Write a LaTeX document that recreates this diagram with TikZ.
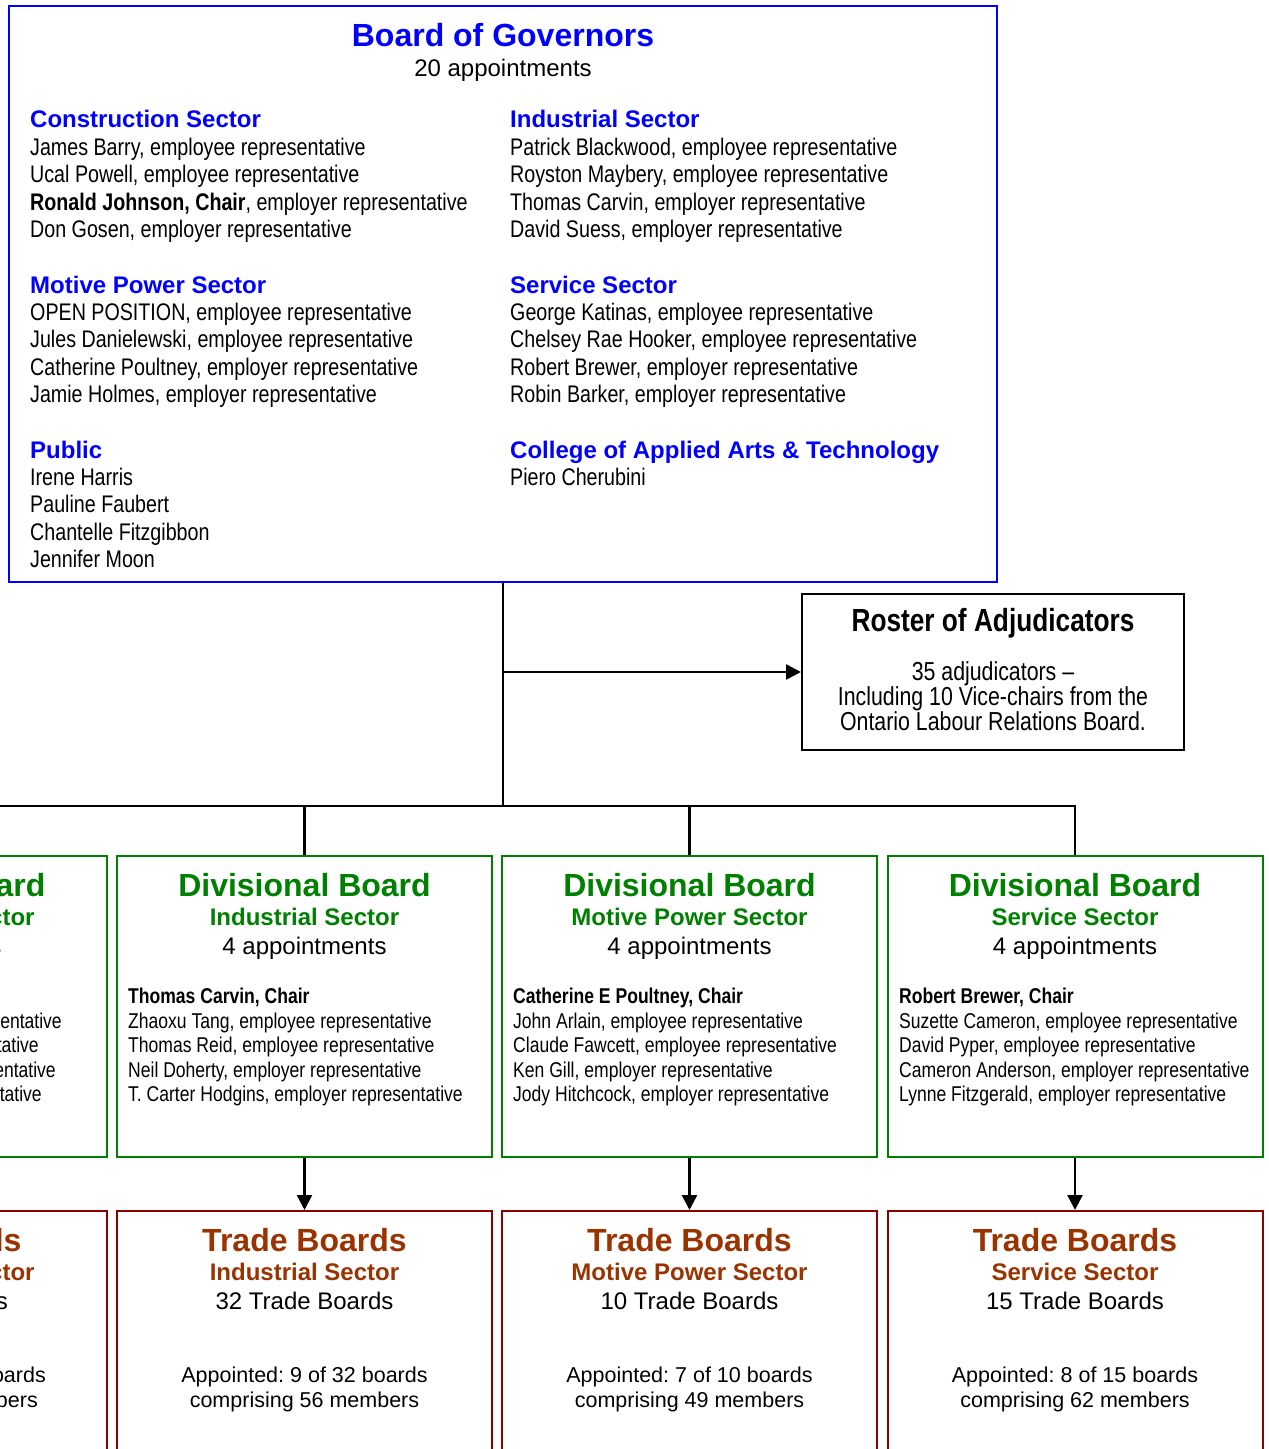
\documentclass[tikz,border=0pt]{standalone}
\usepackage{fontspec}
\setmainfont{Liberation Sans}
\newfontfamily\narrowfont{Liberation Sans}[FakeStretch=0.82]
\usetikzlibrary{arrows.meta}
\definecolor{bblue}{RGB}{0,0,255}
\definecolor{dgreen}{RGB}{0,128,0}
\definecolor{dred}{RGB}{140,0,0}
\definecolor{tbrown}{RGB}{153,51,0}
\tikzset{
  bluebox/.style={draw=bblue, line width=2pt, inner sep=0pt},
  rosterbox/.style={draw=black, line width=2pt, inner sep=0pt, minimum width=382pt, minimum height=156pt},
  divbox/.style={draw=dgreen, line width=2pt, inner sep=0pt, minimum width=375pt, minimum height=301pt},
  tradebox/.style={draw=dred, line width=2pt, inner sep=0pt, minimum width=375pt, minimum height=300pt},
  conn/.style={line width=2.5pt},
  arr/.style={conn, -{Triangle[width=15pt,length=15pt]}},
  hd/.style={font=\fontsize{32}{36}\selectfont\bfseries, anchor=base, inner sep=0pt},
  sec/.style={font=\fontsize{24}{27.5}\selectfont\bfseries, inner sep=0pt},
  reg/.style={font=\fontsize{24}{27.5}\selectfont, anchor=base, inner sep=0pt},
  nm/.style={font=\narrowfont\fontsize{24}{27.4}\selectfont, anchor=base west, align=left, inner sep=0pt},
  dnm/.style={font=\narrowfont\fontsize{21.4}{24.5}\selectfont, anchor=base west, align=left, inner sep=0pt},
  dnmr/.style={font=\narrowfont\fontsize{21.4}{24.5}\selectfont, anchor=base east, inner sep=0pt},
  apt/.style={font=\fontsize{21.5}{25}\selectfont, anchor=base, align=center, inner sep=0pt},
  aptr/.style={font=\fontsize{21.5}{25}\selectfont, anchor=base east, inner sep=0pt},
}
\begin{document}
\frenchspacing
\begin{tikzpicture}[x=1pt,y=-1pt]
\useasboundingbox (0,0) rectangle (1269,1449);
\clip (0,0) rectangle (1269,1449);

% ---------------- Board of Governors ----------------
\node[bluebox, minimum width=988pt, minimum height=576pt] (board) at (503,294) {};
\node[hd, text=bblue] (btitle) at (503,46) {Board of Governors};
\node[reg] (bapp) at (503,76) {20 appointments};

% (multi-line nodes: the base anchor is the baseline of the last line)
\node[sec, text=bblue, anchor=base west] (hcon) at (30,127) {Construction Sector};
\node[nm] (ncon) at (30,237.7) {James Barry, employee representative\\
Ucal Powell, employee representative\\
\textbf{Ronald Johnson, Chair}, employer representative\\
Don Gosen, employer representative};

\node[sec, text=bblue, anchor=base west] (hmot) at (30,293) {Motive Power Sector};
\node[nm] (nmot) at (30,402.7) {OPEN POSITION, employee representative\\
Jules Danielewski, employee representative\\
Catherine Poultney, employer representative\\
Jamie Holmes, employer representative};

\node[sec, text=bblue, anchor=base west] (hpub) at (30,458) {Public};
\node[nm] (npub) at (30,567.7) {Irene Harris\\
Pauline Faubert\\
Chantelle Fitzgibbon\\
Jennifer Moon};

\node[sec, text=bblue, anchor=base west] (hind) at (510,127) {Industrial Sector};
\node[nm] (nind) at (510,237.7) {Patrick Blackwood, employee representative\\
Royston Maybery, employee representative\\
Thomas Carvin, employer representative\\
David Suess, employer representative};

\node[sec, text=bblue, anchor=base west] (hser) at (510,293) {Service Sector};
\node[nm] (nser) at (510,402.7) {George Katinas, employee representative\\
Chelsey Rae Hooker, employee representative\\
Robert Brewer, employer representative\\
Robin Barker, employer representative};

\node[sec, text=bblue, anchor=base west] (hcol) at (510,458) {College of Applied Arts \& Technology};
\node[nm] (ncol) at (510,485.5) {Piero Cherubini};

% ---------------- Roster ----------------
\node[rosterbox] (roster) at (993,672) {};
\node[font=\narrowfont\fontsize{32}{36}\selectfont\bfseries, anchor=base, inner sep=0pt] (rtitle) at (993,631) {Roster of Adjudicators};
\node[font=\narrowfont\fontsize{26}{25}\selectfont, anchor=base, align=center, inner sep=0pt] (rtext) at (993,730) {35 adjudicators –\\Including 10 Vice-chairs from the\\Ontario Labour Relations Board.};

% ---------------- Divisional boards ----------------
\node[divbox] (dcon) at (-80.75,1006.5) {};
\node[hd, text=dgreen] (dcont) at (-80.75,896) {Divisional Board};
\node[sec, text=dgreen, anchor=base] (dcons) at (-80.75,925) {Construction Sector};
\node[reg] (dcona) at (-80.75,954) {4 appointments};
\node[dnmr] (dconn1) at (62,1028) {employee representative};
\node[dnmr] (dconn2) at (39,1052.5) {employee representative};
\node[dnmr] (dconn3) at (56,1077) {employer representative};
\node[dnmr] (dconn4) at (42,1101.5) {employer representative};

\node[divbox] (dind) at (304.5,1006.5) {};
\node[hd, text=dgreen] (dindt) at (304.5,896) {Divisional Board};
\node[sec, text=dgreen, anchor=base] (dinds) at (304.5,925) {Industrial Sector};
\node[reg] (dinda) at (304.5,954) {4 appointments};
\node[dnm] (dindn) at (128,1101.5) {\textbf{Thomas Carvin, Chair}\\
Zhaoxu Tang, employee representative\\
Thomas Reid, employee representative\\
Neil Doherty, employer representative\\
T. Carter Hodgins, employer representative};

\node[divbox] (dmot) at (689.5,1006.5) {};
\node[hd, text=dgreen] (dmott) at (689.5,896) {Divisional Board};
\node[sec, text=dgreen, anchor=base] (dmots) at (689.5,925) {Motive Power Sector};
\node[reg] (dmota) at (689.5,954) {4 appointments};
\node[dnm] (dmotn) at (513,1101.5) {\textbf{Catherine E Poultney, Chair}\\
John Arlain, employee representative\\
Claude Fawcett, employee representative\\
Ken Gill, employer representative\\
Jody Hitchcock, employer representative};

\node[divbox] (dser) at (1075,1006.5) {};
\node[hd, text=dgreen] (dsert) at (1075,896) {Divisional Board};
\node[sec, text=dgreen, anchor=base] (dsers) at (1075,925) {Service Sector};
\node[reg] (dsera) at (1075,954) {4 appointments};
\node[dnm] (dsern) at (899,1101.5) {\textbf{Robert Brewer, Chair}\\
Suzette Cameron, employee representative\\
David Pyper, employee representative\\
Cameron Anderson, employer representative\\
Lynne Fitzgerald, employer representative};

% ---------------- Trade boards ----------------
\node[tradebox] (tcon) at (-80.75,1361) {};
\node[hd, text=tbrown] (tcont) at (-80.75,1251) {Trade Boards};
\node[sec, text=tbrown, anchor=base] (tcons) at (-80.75,1280) {Construction Sector};
\node[reg, anchor=base east] (tconn) at (8,1309) {Trade Boards};
\node[aptr] (tcona1) at (46,1382) {boards};
\node[aptr] (tcona2) at (38,1407) {members};

\node[tradebox] (tind) at (304.5,1361) {};
\node[hd, text=tbrown] (tindt) at (304.5,1251) {Trade Boards};
\node[sec, text=tbrown, anchor=base] (tinds) at (304.5,1280) {Industrial Sector};
\node[reg] (tindn) at (304.5,1309) {32 Trade Boards};
\node[apt] (tinda) at (304.5,1407) {Appointed: 9 of 32 boards\\comprising 56 members};

\node[tradebox] (tmot) at (689.5,1361) {};
\node[hd, text=tbrown] (tmott) at (689.5,1251) {Trade Boards};
\node[sec, text=tbrown, anchor=base] (tmots) at (689.5,1280) {Motive Power Sector};
\node[reg] (tmotn) at (689.5,1309) {10 Trade Boards};
\node[apt] (tmota) at (689.5,1407) {Appointed: 7 of 10 boards\\comprising 49 members};

\node[tradebox] (tser) at (1075,1361) {};
\node[hd, text=tbrown] (tsert) at (1075,1251) {Trade Boards};
\node[sec, text=tbrown, anchor=base] (tsers) at (1075,1280) {Service Sector};
\node[reg] (tsern) at (1075,1309) {15 Trade Boards};
\node[apt] (tsera) at (1075,1407) {Appointed: 8 of 15 boards\\comprising 62 members};

% ---------------- Connectors ----------------
\coordinate (junction) at (503,806);
\coordinate (rbranch) at (503,672);
\draw[conn] (board.south) -- (junction);
\draw[arr] (rbranch) -- (roster.west);
\draw[conn] (dcon.north) -- (dcon.north |- junction) -- (dser.north |- junction) -- (dser.north);
\draw[conn] (dind.north) -- (dind.north |- junction);
\draw[conn] (dmot.north) -- (dmot.north |- junction);
\draw[arr] (dcon.south) -- (tcon.north);
\draw[arr] (dind.south) -- (tind.north);
\draw[arr] (dmot.south) -- (tmot.north);
\draw[arr] (dser.south) -- (tser.north);
\end{tikzpicture}
\end{document}
